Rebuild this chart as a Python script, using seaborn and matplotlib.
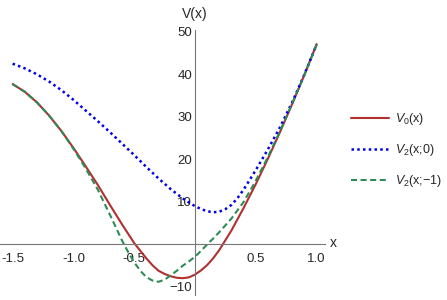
import numpy as np
import pandas as pd
import matplotlib
matplotlib.use('Agg')
import matplotlib.pyplot as plt
import seaborn as sns

# values
red_x = [-1.5, -1.4, -1.3, -1.2, -1.1, -1.0, -0.9, -0.8, -0.7, -0.6, -0.5, -0.4, -0.35, -0.3, -0.25,
         -0.2, -0.15, -0.1, -0.05, 0.0, 0.05, 0.1, 0.15, 0.2, 0.3, 0.4, 0.5, 0.6, 0.7, 0.8, 0.9, 1.0]
red_y = [37.7, 35.9, 33.4, 30.3, 26.7, 22.7, 18.4, 14.0, 9.3, 4.7, 0.3, -3.3, -4.9, -6.2, -6.95,
         -7.5, -7.85, -7.95, -7.75, -7.1, -6.1, -4.85, -3.25, -1.3, 3.3, 8.6, 14.2, 20.2, 26.5, 33.1, 39.9, 47.1]

blue_x = [-1.5, -1.4, -1.3, -1.2, -1.1, -1.0, -0.9, -0.8, -0.7, -0.6, -0.5, -0.4, -0.3, -0.2, -0.1, -0.05,
          0.0, 0.05, 0.1, 0.15, 0.2, 0.25, 0.3, 0.35, 0.4, 0.5, 0.6, 0.7, 0.8, 0.9, 1.0]
blue_y = [42.5, 41.4, 40.0, 38.3, 36.3, 34.0, 31.5, 29.0, 26.4, 23.7, 21.0, 18.2, 15.5, 13.0, 10.8, 9.85,
          9.0, 8.3, 7.8, 7.55, 7.7, 8.3, 9.3, 10.9, 12.9, 17.5, 22.4, 27.6, 33.5, 40.0, 47.0]

green_x = [-1.5, -1.4, -1.3, -1.2, -1.1, -1.0, -0.9, -0.8, -0.7, -0.6, -0.55, -0.5, -0.45, -0.4, -0.35,
           -0.3, -0.25, -0.2, -0.15, -0.1, -0.05, 0.0, 0.05, 0.1, 0.15, 0.2, 0.3, 0.4, 0.5, 0.6, 0.7, 0.8, 0.9, 1.0]
green_y = [37.7, 35.9, 33.4, 30.3, 26.7, 22.5, 17.9, 12.9, 7.0, 0.9, -1.8, -4.2, -6.2, -7.7, -8.5,
           -8.8, -8.3, -7.3, -6.2, -5.0, -4.0, -2.9, -1.5, 0.0, 1.4, 2.9, 6.1, 10.0, 15.0, 20.6, 26.7, 33.2, 39.9, 47.0]

labels = [r'$V_0$(x)', r'$V_2$(x;0)', r'$V_2$(x;$-$1)']
x_ticks = [-1.5, -1.0, -0.5, 0.5, 1.0]
y_ticks = [-10, 10, 20, 30, 40, 50]

sns.set_style('white')
plt.rcParams['font.family'] = ['Liberation Sans', 'DejaVu Sans']
plt.rcParams['mathtext.fontset'] = 'custom'
plt.rcParams['mathtext.rm'] = 'Liberation Sans'
plt.rcParams['mathtext.it'] = 'Liberation Sans:italic'
plt.rcParams['axes.unicode_minus'] = True

fig = plt.figure(figsize=(4.47, 3.0), dpi=100)
ax = fig.add_axes([0.001, 0.0167, 0.7264, 0.883])

sns.lineplot(x=red_x, y=red_y, ax=ax, color='#b03030', lw=1.5, sort=False, label=labels[0])
sns.lineplot(x=blue_x, y=blue_y, ax=ax, color='#0000ee', lw=1.8, sort=False,
             linestyle=(0, (1, 1.3)), label=labels[1])
sns.lineplot(x=green_x, y=green_y, ax=ax, color='#2e8b57', lw=1.5, sort=False,
             linestyle=(0, (2.9, 1.7)), label=labels[2])

ax.set_xlim(-1.6, 1.07)
ax.set_ylim(-11.9, 50.4)

for s in ['top', 'right']:
    ax.spines[s].set_visible(False)
ax.spines['left'].set_position(('data', 0))
ax.spines['bottom'].set_position(('data', 0))
for s in ['left', 'bottom']:
    ax.spines[s].set_color('#777777')
    ax.spines[s].set_linewidth(0.8)

ax.set_xticks(x_ticks)
ax.set_xticklabels(['%.1f' % v for v in x_ticks])
ax.set_yticks(y_ticks)
ax.set_xticks([v / 10 for v in range(-15, 11) if v % 5 != 0], minor=True)
ax.set_yticks([v for v in range(-10, 51, 2) if v % 10 != 0], minor=True)
ax.tick_params(axis='both', which='major', direction='in', length=4, width=0.8,
               color='#777777', labelsize=9.5)
ax.tick_params(axis='both', which='minor', direction='in', length=2, width=0.6, color='#777777')
ax.tick_params(axis='x', which='major', pad=6)
ax.tick_params(axis='y', which='major', pad=2)
ax.set_xlabel('')
ax.set_ylabel('')

fig.text(333 / 447, 1 - 243 / 300, 'x', ha='center', va='center', fontsize=10)
fig.text(195 / 447, 1 - 14 / 300, 'V(x)', ha='center', va='center', fontsize=10)

handles, labs = ax.get_legend_handles_labels()
ax.get_legend().remove()
fig.legend(handles, labs, loc='upper left', bbox_to_anchor=(351 / 447, 1 - 111 / 300),
           frameon=False, borderpad=0, borderaxespad=0, handlelength=3.0,
           handletextpad=0.55, labelspacing=1.2, fontsize=9)

fig.savefig('out.png', dpi=100)
